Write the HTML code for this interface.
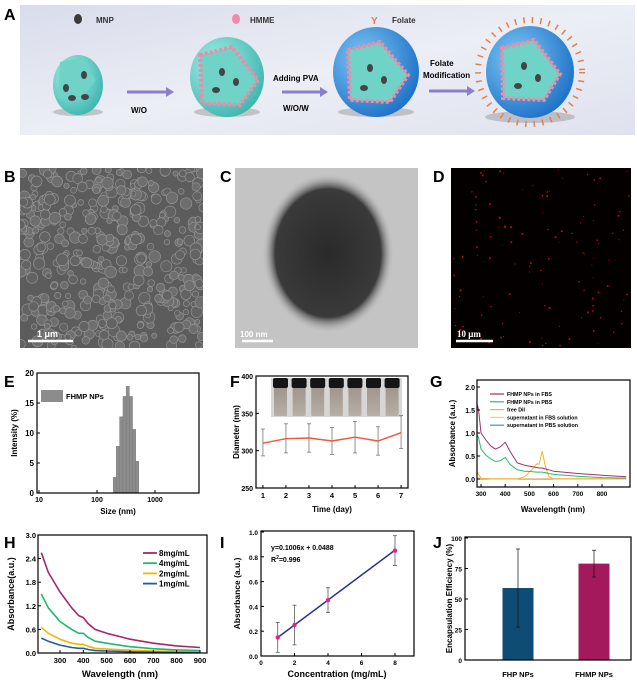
<!DOCTYPE html>
<html><head><meta charset="utf-8">
<style>
html,body{margin:0;padding:0;background:#fff;}
svg{display:block;font-family:"Liberation Sans",Arial,sans-serif;}
text{font-weight:bold;}
</style></head>
<body>
<svg id="fig" width="637" height="688" viewBox="0 0 637 688">
<defs>
<linearGradient id="bgA" x1="0" y1="0" x2="1" y2="1"><stop offset="0" stop-color="#d9dceb"/><stop offset="0.5" stop-color="#eceef5"/><stop offset="1" stop-color="#dfe2ee"/></linearGradient>
<radialGradient id="teal" cx="0.35" cy="0.35" r="0.7"><stop offset="0" stop-color="#a8efe8"/><stop offset="1" stop-color="#3fb7b0"/></radialGradient>
<radialGradient id="blue" cx="0.35" cy="0.35" r="0.7"><stop offset="0" stop-color="#7ec8f5"/><stop offset="1" stop-color="#1f72c8"/></radialGradient>
<radialGradient id="tem" cx="0.5" cy="0.5" r="0.5"><stop offset="0" stop-color="#2a2a2a"/><stop offset="0.8" stop-color="#3a3a3a"/><stop offset="1" stop-color="#c4c4c4" stop-opacity="0"/></radialGradient>
<linearGradient id="vial" x1="0" y1="0" x2="0" y2="1"><stop offset="0" stop-color="#9d938c"/><stop offset="1" stop-color="#b7aea6"/></linearGradient>
<clipPath id="clipB"><rect x="20" y="168" width="183" height="180"/></clipPath>
<clipPath id="clipD"><rect x="451" y="168" width="180" height="180"/></clipPath>
</defs>

<!-- Panel A -->
<g>
<text x="4" y="20" font-size="16">A</text>
<rect x="20" y="5" width="615" height="130" fill="url(#bgA)"/>
<ellipse cx="78" cy="19" rx="4" ry="5" fill="#3a3a3a"/>
<text x="96" y="23" font-size="8" fill="#333">MNP</text>
<ellipse cx="236" cy="19" rx="4" ry="5" fill="#f08aa8"/>
<text x="250" y="23" font-size="8" fill="#333">HMME</text>
<text x="371" y="24" font-size="10" fill="#e07a50">Y</text>
<text x="392" y="23" font-size="8" fill="#333">Folate</text>
<ellipse cx="78" cy="112" rx="25" ry="4" fill="#999" opacity="0.5"/>
<ellipse cx="78" cy="85" rx="25" ry="30" fill="url(#teal)"/>
<path d="M60 62 L80 58 L96 80 L80 100 L58 98 Z" fill="#6fd3c8"/>
<ellipse cx="84" cy="75" rx="3" ry="4" fill="#444"/><ellipse cx="66" cy="88" rx="3" ry="4" fill="#444"/><ellipse cx="72" cy="98" rx="4" ry="3" fill="#444"/><ellipse cx="85" cy="97" rx="4" ry="3" fill="#444"/>
<line x1="127" y1="92" x2="168" y2="92" stroke="#8a7fc8" stroke-width="3"/><polygon points="166,87 174,92 166,97" fill="#8a7fc8"/>
<text x="131" y="113" font-size="8">W/O</text>
<ellipse cx="227" cy="112" rx="33" ry="5" fill="#999" opacity="0.5"/>
<ellipse cx="227" cy="77" rx="37" ry="40" fill="url(#teal)"/>
<path d="M200 55 L232 47 L258 80 L240 105 L202 103 Z" fill="#6fd3c8" stroke="#f08aa8" stroke-width="4" stroke-dasharray="3 2"/>
<ellipse cx="222" cy="72" rx="3" ry="4" fill="#444"/><ellipse cx="236" cy="82" rx="3" ry="4" fill="#444"/><ellipse cx="216" cy="90" rx="4" ry="3" fill="#444"/>
<line x1="282" y1="92" x2="322" y2="92" stroke="#8a7fc8" stroke-width="3"/><polygon points="320,87 328,92 320,97" fill="#8a7fc8"/>
<text x="273" y="81" font-size="8">Adding PVA</text>
<text x="283" y="111" font-size="8">W/O/W</text>
<ellipse cx="376" cy="112" rx="38" ry="5" fill="#999" opacity="0.5"/>
<ellipse cx="376" cy="72" rx="43" ry="45" fill="url(#blue)"/>
<path d="M348 50 L380 42 L408 75 L390 102 L350 100 Z" fill="#6fd3c8" stroke="#f08aa8" stroke-width="4" stroke-dasharray="3 2"/>
<ellipse cx="370" cy="68" rx="3" ry="4" fill="#444"/><ellipse cx="384" cy="80" rx="3" ry="4" fill="#444"/><ellipse cx="364" cy="88" rx="4" ry="3" fill="#444"/>
<line x1="429" y1="91" x2="469" y2="91" stroke="#8a7fc8" stroke-width="3"/><polygon points="467,86 475,91 467,96" fill="#8a7fc8"/>
<text x="430" y="66" font-size="8">Folate</text>
<text x="423" y="78" font-size="8">Modification</text>
<ellipse cx="530" cy="117" rx="45" ry="6" fill="#999" opacity="0.5"/>
<circle cx="530" cy="72" r="52" fill="none" stroke="#e08050" stroke-width="6" stroke-dasharray="1.5 7"/>
<ellipse cx="530" cy="72" rx="44" ry="46" fill="url(#blue)"/>
<path d="M502 48 L534 40 L560 74 L544 100 L503 98 Z" fill="#6fd3c8" stroke="#f08aa8" stroke-width="4" stroke-dasharray="3 2"/>
<ellipse cx="524" cy="66" rx="3" ry="4" fill="#444"/><ellipse cx="538" cy="78" rx="3" ry="4" fill="#444"/><ellipse cx="518" cy="86" rx="4" ry="3" fill="#444"/>
</g>

<!-- B, C, D images -->
<text x="4" y="182" font-size="16">B</text>
<g id="semB" clip-path="url(#clipB)"><rect x="20" y="168" width="183" height="180" fill="#5c5c5c"/></g>
<text x="220" y="182" font-size="16">C</text>
<g>
<rect x="235" y="168" width="183" height="180" fill="#c4c4c4"/>
<ellipse cx="328" cy="253" rx="66" ry="80" fill="url(#tem)"/>
</g>
<text x="433" y="182" font-size="16">D</text>
<g id="flD" clip-path="url(#clipD)"><rect x="451" y="168" width="180" height="180" fill="#050000"/></g>
<line x1="28" y1="341" x2="73" y2="341" stroke="#fff" stroke-width="2.5"/>
<text x="37" y="337" font-size="9" fill="#fff">1 μm</text>
<line x1="242" y1="341" x2="273" y2="341" stroke="#fff" stroke-width="2.5"/>
<text x="240" y="337" font-size="8" fill="#fff">100 nm</text>
<line x1="456" y1="341" x2="493" y2="341" stroke="#fff" stroke-width="2.5"/>
<text x="457" y="337" font-size="9" fill="#fff" font-family="Liberation Serif">10 μm</text>

<g id="charts"></g>
</svg>

<script>
// ---------- Data ----------
const eBinSizes = [190, 215, 245, 280, 318, 362, 410, 465, 525];
const eIntensity = [2.6, 7.8, 12.7, 16.1, 17.8, 16.1, 10.6, 5.3];
const eYTicks = [0, 5, 10, 15, 20];
const eXTicks = [10, 100, 1000];
const fDays = [1, 2, 3, 4, 5, 6, 7];
const fDiameter = [310, 316, 317, 313, 318, 313, 324];
const fErrHigh = [329, 336, 336, 331, 339, 332, 347];
const fErrLow = [293, 297, 298, 295, 297, 294, 303];
const fYTicks = [250, 300, 350, 400];
const gNames = ["FHMP NPs in FBS", "FHMP NPs in PBS", "free DiI", "supernatant in FBS solution", "supernatant in PBS solution"];
const gColors = ["#a0306a", "#2db87a", "#f0b429", "#f5c796", "#4a8fb0"];
const gWl = [280, 290, 300, 320, 340, 360, 380, 400, 420, 450, 480, 510, 530, 540, 553, 565, 580, 600, 700, 800, 900];
const gFBS = [1.7, 1.5, 1.0, 0.85, 0.72, 0.65, 0.7, 0.8, 0.6, 0.35, 0.3, 0.27, 0.25, 0.24, 0.24, 0.22, 0.2, 0.17, 0.12, 0.08, 0.05];
const gPBS = [1.0, 0.9, 0.65, 0.52, 0.44, 0.38, 0.4, 0.47, 0.32, 0.2, 0.17, 0.16, 0.15, 0.15, 0.15, 0.14, 0.12, 0.1, 0.06, 0.03, 0.02];
const gDiI = [0.2, 0.1, 0.02, 0.01, 0, 0, 0, 0, 0, 0, 0.05, 0.2, 0.33, 0.32, 0.6, 0.3, 0.05, 0, 0, 0, 0];
const gSupFBS = [0.02, 0.02, 0.01, 0.01, 0.01, 0.01, 0.01, 0.01, 0.01, 0.01, 0.01, 0.01, 0.01, 0.01, 0.01, 0.01, 0.01, 0.01, 0.01, 0.01, 0.01];
const gSupPBS = [0.0, 0.0, 0.0, 0.0, 0.0, 0.0, 0.0, 0.0, 0.0, 0.0, 0.0, 0.0, 0.0, 0.0, 0.0, 0.0, 0.0, 0.0, 0.0, 0.0, 0.0];
const gYTicks = ["0.0", "0.5", "1.0", "1.5", "2.0"];
const gXTicks = [300, 400, 500, 600, 700, 800];
const hWl = [220, 250, 300, 350, 380, 400, 420, 450, 500, 600, 700, 800, 900];
const hNames = ["8mg/mL", "4mg/mL", "2mg/mL", "1mg/mL"];
const hColors = ["#a3286a", "#22b573", "#f4b400", "#1f5f9e"];
const h8 = [2.55, 2.05, 1.55, 1.15, 0.95, 0.9, 0.75, 0.6, 0.5, 0.35, 0.25, 0.18, 0.14];
const h4 = [1.5, 1.15, 0.8, 0.6, 0.5, 0.5, 0.4, 0.3, 0.25, 0.16, 0.11, 0.08, 0.06];
const h2 = [0.65, 0.5, 0.35, 0.25, 0.22, 0.22, 0.17, 0.12, 0.1, 0.07, 0.05, 0.04, 0.03];
const h1 = [0.38, 0.3, 0.2, 0.14, 0.12, 0.12, 0.09, 0.06, 0.05, 0.03, 0.02, 0.01, 0.01];
const hYTicks = ["0.0", "0.6", "1.2", "1.8", "2.4", "3.0"];
const hXTicks = [300, 400, 500, 600, 700, 800, 900];
const iConc = [1, 2, 4, 8];
const iAbs = [0.15, 0.25, 0.45, 0.85];
const iErrHigh = [0.27, 0.41, 0.55, 0.97];
const iErrLow = [0.03, 0.09, 0.35, 0.73];
const iSlope = 0.1006, iIntercept = 0.0488;
const iYTicks = ["0.0", "0.2", "0.4", "0.6", "0.8", "1.0"];
const iXTicks = [0, 2, 4, 6, 8];
const jCats = ["FHP NPs", "FHMP NPs"];
const jVals = [59, 79];
const jErrHigh = [91, 90];
const jErrLow = [27, 68];
const jColors = ["#0f4c75", "#a3195b"];
const jYTicks = [0, 25, 50, 75, 100];

// ---------- helpers ----------
const NS = "http://www.w3.org/2000/svg";
const root = document.getElementById("charts");
function mk(tag, attrs, parent) {
  const e = document.createElementNS(NS, tag);
  for (const k in attrs) e.setAttribute(k, attrs[k]);
  (parent || root).appendChild(e);
  return e;
}
function txt(x, y, s, size, anchor, parent, extra) {
  const t = mk("text", Object.assign({x: x, y: y, "font-size": size, "text-anchor": anchor || "start"}, extra || {}), parent);
  t.textContent = s;
  return t;
}
function lin(d0, d1, r0, r1) { return v => r0 + (v - d0) * (r1 - r0) / (d1 - d0); }
function frame(x0, y0, x1, y1, parent) {
  mk("rect", {x: x0, y: y0, width: x1 - x0, height: y1 - y0, fill: "none", stroke: "#000", "stroke-width": 1.2}, parent);
}
function poly(xs, ys, sx, sy, color, w, parent) {
  const pts = xs.map((v, i) => sx(v).toFixed(1) + "," + sy(ys[i]).toFixed(1)).join(" ");
  return mk("polyline", {points: pts, fill: "none", stroke: color, "stroke-width": w || 1.3, "stroke-linejoin": "round"}, parent);
}

// ---------- B/D textures ----------
(function(){
  const g = document.getElementById("semB");
  let s = 7;
  function rnd(){ s = (s * 9301 + 49297) % 233280; return s / 233280; }
  for (let i = 0; i < 420; i++) {
    mk("circle", {cx: 20 + rnd()*183, cy: 168 + rnd()*180, r: 2.5 + rnd()*3.5,
      fill: rnd() > 0.5 ? "#6e6e6e" : "#636363", stroke: "#9a9a9a", "stroke-width": 0.6}, g);
  }
  const d = document.getElementById("flD");
  for (let i = 0; i < 120; i++) {
    mk("circle", {cx: 453 + rnd()*176, cy: 170 + rnd()*176, r: 0.4 + rnd()*0.7, fill: "#b01010"}, d);
  }
})();

// ---------- E ----------
(function(){
  const g = mk("g", {});
  
  
  const x0 = 37, x1 = 199, y0 = 373, y1 = 493;
  const sx = v => 39 + (Math.log10(v) - 1) * 58;
  const sy = lin(0, 20, y1, y0);
  txt(4, 387, "E", 16, "start", g);
  eIntensity.forEach((v, i) => {
    const r = mk("rect", {x: sx(eBinSizes[i]), y: sy(v), width: sx(eBinSizes[i+1]) - sx(eBinSizes[i]), height: y1 - sy(v), fill: "#8c8c8c", stroke: "#777", "stroke-width": 0.4}, g);
    
    
  });
  frame(x0, y0, x1, y1, g);
  eYTicks.forEach(v => { mk("line", {x1: x0, x2: x0 + 3, y1: sy(v), y2: sy(v), stroke: "#000"}, g); txt(x0 - 3, sy(v) + 3, String(v), 8, "end", g); });
  eXTicks.forEach(v => { mk("line", {x1: sx(v), x2: sx(v), y1: y1, y2: y1 - 3, stroke: "#000"}, g); txt(sx(v), y1 + 9, String(v), 7, "middle", g); });
  const yt = txt(0, 0, "Intensity (%)", 8, "middle", g, {transform: "translate(17," + ((y0 + y1) / 2) + ") rotate(-90)"});
  
  
  txt(118, 514, "Size (nm)", 8, "middle", g);
  mk("rect", {x: 41, y: 390, width: 22, height: 12, fill: "#8c8c8c"}, g);
  txt(66, 399, "FHMP NPs", 7.5, "start", g);
})();

// ---------- F ----------
(function(){
  const g = mk("g", {});
  
  
  const x0 = 256, x1 = 408, y0 = 376, y1 = 488;
  const sx = lin(0.7, 7.3, x0, x1);
  const sy = lin(250, 400, y1, y0);
  txt(230, 387, "F", 16, "start", g);
  mk("rect", {x: 271, y: 378, width: 131, height: 39, fill: "#d8d6d4"}, g);
  fDays.forEach((d, i) => {
    const vx = 273 + i * 18.6;
    mk("rect", {x: vx + 1, y: 385, width: 13, height: 31, fill: "url(#vial)", rx: 1}, g);
    mk("rect", {x: vx, y: 378, width: 15, height: 10, fill: "#151515", rx: 2}, g);
  });
  frame(x0, y0, x1, y1, g);
  fYTicks.forEach(v => { mk("line", {x1: x0, x2: x0 + 3, y1: sy(v), y2: sy(v), stroke: "#000"}, g); txt(x0 - 3, sy(v) + 3, String(v), 7, "end", g); });
  fDays.forEach(v => { mk("line", {x1: sx(v), x2: sx(v), y1: y1, y2: y1 - 3, stroke: "#000"}, g); txt(sx(v), y1 + 10, String(v), 7.5, "middle", g); });
  fDays.forEach((d, i) => {
    mk("line", {x1: sx(d), x2: sx(d), y1: sy(fErrLow[i]), y2: sy(fErrHigh[i]), stroke: "#777", "stroke-width": 0.8}, g);
    mk("line", {x1: sx(d) - 2, x2: sx(d) + 2, y1: sy(fErrLow[i]), y2: sy(fErrLow[i]), stroke: "#777", "stroke-width": 0.8}, g);
    mk("line", {x1: sx(d) - 2, x2: sx(d) + 2, y1: sy(fErrHigh[i]), y2: sy(fErrHigh[i]), stroke: "#777", "stroke-width": 0.8}, g);
  });
  const l = poly(fDays, fDiameter, sx, sy, "#ea5a3c", 1.4, g);
  
  
  txt(0, 0, "Diameter (nm)", 8, "middle", g, {transform: "translate(239," + ((y0 + y1) / 2) + ") rotate(-90)"});
  txt(332, 512, "Time (day)", 8, "middle", g);
})();

// ---------- G ----------
(function(){
  const g = mk("g", {});
  
  
  const x0 = 477, x1 = 630, y0 = 380, y1 = 487;
  const sx = lin(300, 800, 481, 602);
  const sy = lin(0, 2, 479, 387);
  txt(430, 387, "G", 16, "start", g);
  const series = [gFBS, gPBS, gDiI, gSupFBS, gSupPBS];
  const cp = mk("clipPath", {id: "clipG"}, g);
  mk("rect", {x: x0, y: y0, width: x1 - x0, height: y1 - y0}, cp);
  const sg = mk("g", {"clip-path": "url(#clipG)"}, g);
  [4, 3, 2, 1, 0].forEach(k => {
    const p = poly(gWl, series[k], sx, sy, gColors[k], 1, sg);
    
    
  });
  frame(x0, y0, x1, y1, g);
  gYTicks.forEach(v => { mk("line", {x1: x0, x2: x0 + 3, y1: sy(+v), y2: sy(+v), stroke: "#000"}, g); txt(x0 - 2, sy(+v) + 3, v, 7, "end", g); });
  gXTicks.forEach(v => { mk("line", {x1: sx(v), x2: sx(v), y1: y1, y2: y1 - 3, stroke: "#000"}, g); txt(sx(v), y1 + 9, String(v), 6.5, "middle", g); });
  txt(0, 0, "Absorbance (a.u.)", 8, "middle", g, {transform: "translate(455," + ((y0 + y1) / 2) + ") rotate(-90)"});
  txt(553, 512, "Wavelength (nm)", 8, "middle", g);
  gNames.forEach((n, i) => {
    const yy = 394 + i * 7.8;
    mk("line", {x1: 490, x2: 504, y1: yy, y2: yy, stroke: gColors[i], "stroke-width": 1.2}, g);
    const t = txt(507, yy + 2, n, 5.3, "start", g);
    
    
  });
})();

// ---------- H ----------
(function(){
  const g = mk("g", {});
  
  
  const x0 = 38, x1 = 207, y0 = 535, y1 = 653;
  const sx = lin(300, 900, 60, 200);
  const sy = lin(0, 3, y1, y0);
  txt(4, 548, "H", 16, "start", g);
  [h8, h4, h2, h1].forEach((s, k) => {
    const p = poly(hWl, s, sx, sy, hColors[k], 1.6, g);
    
    
  });
  frame(x0, y0, x1, y1, g);
  hYTicks.forEach(v => { mk("line", {x1: x0, x2: x0 + 3, y1: sy(+v), y2: sy(+v), stroke: "#000"}, g); txt(x0 - 2, sy(+v) + 3, v, 7.5, "end", g); });
  hXTicks.forEach(v => { mk("line", {x1: sx(v), x2: sx(v), y1: y1, y2: y1 - 3, stroke: "#000"}, g); txt(sx(v), y1 + 10, String(v), 7.5, "middle", g); });
  txt(0, 0, "Absorbance(a.u.)", 9, "middle", g, {transform: "translate(14," + ((y0 + y1) / 2) + ") rotate(-90)"});
  txt(120, 677, "Wavelength (nm)", 9.5, "middle", g);
  hNames.forEach((n, i) => {
    const yy = 553 + i * 10.2;
    mk("line", {x1: 143, x2: 157, y1: yy, y2: yy, stroke: hColors[i], "stroke-width": 1.8}, g);
    const t = txt(159, yy + 3, n, 8, "start", g);
    
    
  });
})();

// ---------- I ----------
(function(){
  const g = mk("g", {});
  
  
  const x0 = 261, x1 = 414, y0 = 531, y1 = 656;
  const sx = lin(0, 8, 261, 395);
  const sy = lin(0, 1, 656, 532);
  txt(220, 548, "I", 16, "start", g);
  frame(x0, y0, x1, y1, g);
  iYTicks.forEach(v => { mk("line", {x1: x0, x2: x0 + 3, y1: sy(+v), y2: sy(+v), stroke: "#000"}, g); txt(x0 - 3, sy(+v) + 3, v, 6.5, "end", g); });
  iXTicks.forEach(v => { mk("line", {x1: sx(v), x2: sx(v), y1: y1, y2: y1 - 3, stroke: "#000"}, g); txt(sx(v), y1 + 9, String(v), 6.5, "middle", g); });
  const xa = iConc[0], xb = iConc[iConc.length - 1];
  const fl = mk("line", {x1: sx(xa), y1: sy(iSlope * xa + iIntercept), x2: sx(xb), y2: sy(iSlope * xb + iIntercept), stroke: "#2b2f8f", "stroke-width": 1.5}, g);
  
  
  iConc.forEach((c, i) => {
    mk("line", {x1: sx(c), x2: sx(c), y1: sy(iErrLow[i]), y2: sy(iErrHigh[i]), stroke: "#444", "stroke-width": 0.7}, g);
    mk("line", {x1: sx(c) - 2, x2: sx(c) + 2, y1: sy(iErrLow[i]), y2: sy(iErrLow[i]), stroke: "#444", "stroke-width": 0.7}, g);
    mk("line", {x1: sx(c) - 2, x2: sx(c) + 2, y1: sy(iErrHigh[i]), y2: sy(iErrHigh[i]), stroke: "#444", "stroke-width": 0.7}, g);
    const p = mk("circle", {cx: sx(c), cy: sy(iAbs[i]), r: 2.2, fill: "#e8208a"}, g);
    
    
  });
  txt(271, 550, "y=0.1006x + 0.0488", 7, "start", g);
  const r2 = txt(271, 562, "R", 7, "start", g);
  const sp = mk("tspan", {dy: -3, "font-size": 5}, r2); sp.textContent = "2";
  const sp2 = mk("tspan", {dy: 3}, r2); sp2.textContent = "=0.996";
  txt(0, 0, "Absorbance (a.u.)", 8.5, "middle", g, {transform: "translate(240," + ((y0 + y1) / 2) + ") rotate(-90)"});
  txt(337, 677, "Concentration (mg/mL)", 9, "middle", g);
})();

// ---------- J ----------
(function(){
  const g = mk("g", {});
  
  
  const x0 = 465, x1 = 631, y0 = 537, y1 = 660;
  const sy = lin(0, 100, 660, 538);
  const cx = [518, 594];
  txt(433, 548, "J", 16, "start", g);
  jVals.forEach((v, i) => {
    const b = mk("rect", {x: cx[i] - 15.5, y: sy(v), width: 31, height: y1 - sy(v), fill: jColors[i]}, g);
    
    
    mk("line", {x1: cx[i], x2: cx[i], y1: sy(jErrLow[i]), y2: sy(jErrHigh[i]), stroke: "#111", "stroke-width": 0.7}, g);
    mk("line", {x1: cx[i] - 2, x2: cx[i] + 2, y1: sy(jErrLow[i]), y2: sy(jErrLow[i]), stroke: "#111", "stroke-width": 0.7}, g);
    mk("line", {x1: cx[i] - 2, x2: cx[i] + 2, y1: sy(jErrHigh[i]), y2: sy(jErrHigh[i]), stroke: "#111", "stroke-width": 0.7}, g);
    txt(cx[i], 677, jCats[i], 7.5, "middle", g);
  });
  frame(x0, y0, x1, y1, g);
  jYTicks.forEach(v => { mk("line", {x1: x0, x2: x0 + 3, y1: sy(v), y2: sy(v), stroke: "#000"}, g); txt(x0 - 3, sy(v) + 3, String(v), 6.5, "end", g); });
  txt(0, 0, "Encapsulation Efficiency (%)", 8, "middle", g, {transform: "translate(452," + ((y0 + y1) / 2) + ") rotate(-90)"});
})();
</script>
</body></html>
